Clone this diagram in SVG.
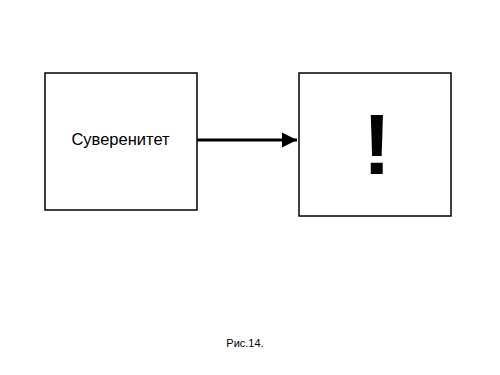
<svg xmlns="http://www.w3.org/2000/svg" width="500" height="375" viewBox="0 0 500 375">
<style>
.box{fill:#fff;stroke:#000;stroke-width:1.5}
.t{font-family:"Liberation Sans",Arial,sans-serif;fill:#000;text-anchor:middle}
.conn{stroke:#000;stroke-width:3;fill:none}
</style>
<defs>
<marker id="ah" markerUnits="userSpaceOnUse" markerWidth="16" markerHeight="16" refX="15" refY="8" orient="auto">
<path d="M0,0.5 L15,8 L0,15.5 Z" fill="#000"/>
</marker>
</defs>
<rect width="500" height="375" fill="#fff"/>
<g id="node-suverenitet">
<rect class="box" x="45" y="73" width="152" height="137"/>
<text class="t" x="120.5" y="144.5" font-size="16.5">Суверенитет</text>
</g>
<g id="node-exclamation">
<rect class="box" x="299" y="73" width="152" height="143"/>
<text class="t" x="377" y="174" font-size="85" font-weight="bold">!</text>
</g>
<g id="connectors">
<line class="conn" x1="197" y1="140" x2="297" y2="140" marker-end="url(#ah)"/>
</g>
<text class="t" x="245" y="347" font-size="11">Рис.14.</text>
</svg>
